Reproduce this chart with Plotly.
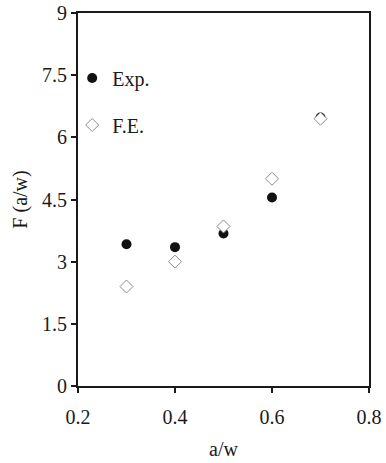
import plotly.graph_objects as go

# Data
aw = [0.3, 0.4, 0.5, 0.6, 0.7]
exp_vals = [3.42, 3.35, 3.68, 4.55, 6.48]
fe_vals = [2.40, 3.00, 3.85, 5.00, 6.45]

x_ticks = [0.2, 0.4, 0.6, 0.8]
x_ticklabels = ["0.2", "0.4", "0.6", "0.8"]
y_ticks = [0, 1.5, 3, 4.5, 6, 7.5, 9]
y_ticklabels = ["0", "1.5", "3", "4.5", "6", "7.5", "9"]

FONT = "Liberation Serif"
INK = "#1a1a1a"
TF = dict(family=FONT, size=20, color=INK)

fig = go.Figure()
fig.add_trace(go.Scatter(
    x=aw, y=exp_vals, mode="markers", name="Exp.", legendgroup="a",
    marker=dict(symbol="circle", size=10, color="#111111", line=dict(width=0)),
))
fig.add_trace(go.Scatter(
    x=aw, y=fe_vals, mode="markers", name="F.E.", legendgroup="b",
    marker=dict(symbol="diamond", size=10, color="white",
                line=dict(width=1, color="#8a8a8a")),
))

axis_common = dict(showgrid=False, zeroline=False, linecolor=INK, linewidth=2,
                   tickcolor=INK, tickwidth=2, automargin=False, tickfont=TF)

fig.update_layout(
    width=386, height=463,
    margin=dict(l=78, r=17, t=13, b=77),
    paper_bgcolor="white", plot_bgcolor="white",
    font=TF,
    showlegend=True,
    legend=dict(x=-0.02, y=0.878, xanchor="left", yanchor="top",
                bgcolor="rgba(0,0,0,0)", font=TF,
                tracegroupgap=18, traceorder="grouped"),
    xaxis=dict(range=[0.2, 0.8], tickvals=x_ticks, ticktext=x_ticklabels,
               ticks="outside", ticklen=5, mirror=True, showline=True,
               ticklabelstandoff=7,
               title=dict(text="a/w", standoff=15, font=TF), **axis_common),
    yaxis=dict(range=[0, 9], tickvals=y_ticks, ticktext=y_ticklabels,
               ticks="outside", ticklen=5, mirror=True, showline=True,
               ticklabelstandoff=0,
               title=dict(text="F (a/w)", standoff=9, font=TF), **axis_common),
    xaxis2=dict(range=[0.2, 0.8], tickvals=x_ticks[1:-1], overlaying="x",
                ticks="inside", ticklen=4, showticklabels=False, showline=False,
                showgrid=False, zeroline=False, tickcolor=INK, tickwidth=2,
                side="bottom", automargin=False),
    yaxis2=dict(range=[0, 9], tickvals=y_ticks[1:-1], overlaying="y",
                ticks="inside", ticklen=4, showticklabels=False, showline=False,
                showgrid=False, zeroline=False, tickcolor=INK, tickwidth=2,
                side="left", automargin=False),
)

fig.write_html("out.html")
